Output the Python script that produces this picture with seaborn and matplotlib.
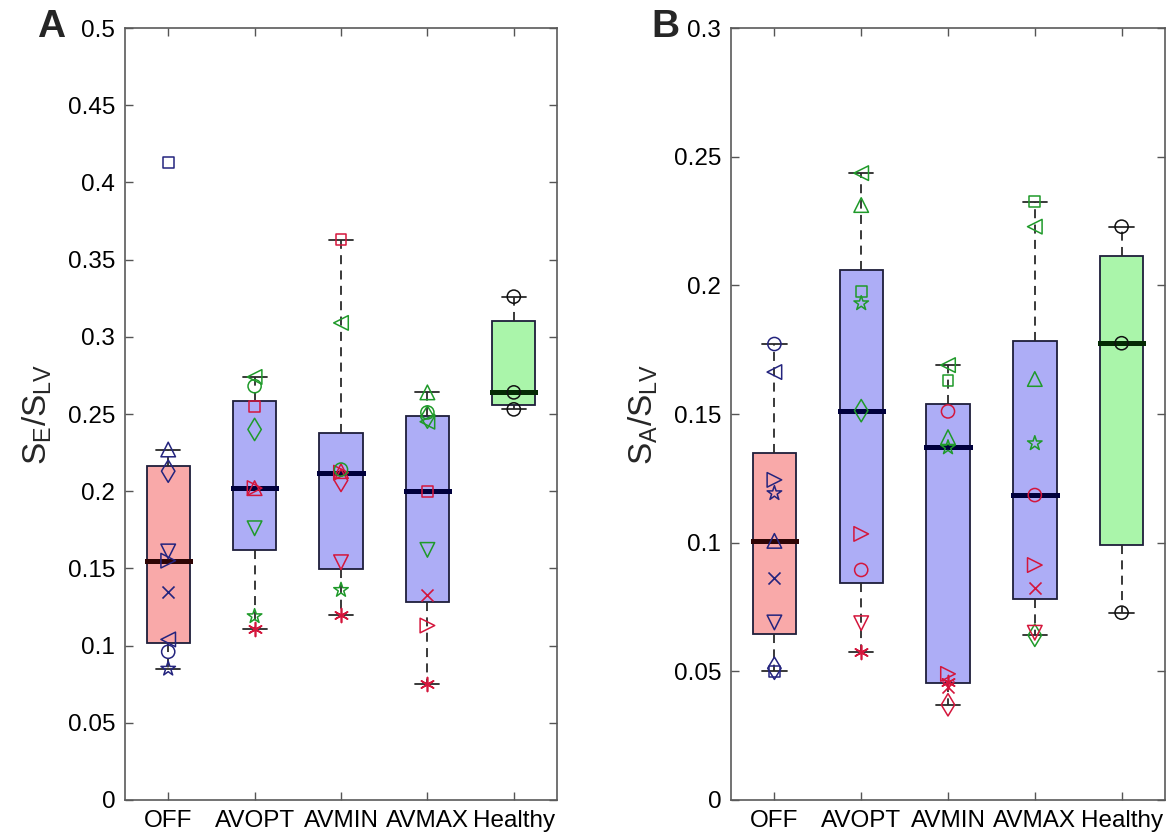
import numpy as np
import pandas as pd
import matplotlib
matplotlib.use("Agg")
import matplotlib.pyplot as plt
import seaborn as sns

# ---------------- data ----------------
categories = ["OFF", "AVOPT", "AVMIN", "AVMAX", "Healthy"]

# Panel A : S_E / S_LV
a_off_vals = [0.413, 0.227, 0.213, 0.161, 0.155, 0.135, 0.104, 0.096, 0.085]
a_off_mk = ["s", "^", "d", "v", ">", "x", "<", "o", "*"]
a_off_col = ["N", "N", "N", "N", "N", "N", "N", "N", "N"]

a_avopt_vals = [0.274, 0.268, 0.255, 0.240, 0.202, 0.202, 0.176, 0.119, 0.111]
a_avopt_mk = ["<", "o", "s", "d", "^", ">", "v", "*", "a"]
a_avopt_col = ["G", "G", "R", "G", "R", "R", "G", "G", "R"]

a_avmin_vals = [0.363, 0.309, 0.214, 0.213, 0.212, 0.207, 0.154, 0.136, 0.120]
a_avmin_mk = ["s", "<", "o", "^", ">", "d", "v", "*", "a"]
a_avmin_col = ["R", "G", "G", "R", "R", "R", "R", "G", "R"]

a_avmax_vals = [0.264, 0.251, 0.248, 0.245, 0.200, 0.162, 0.133, 0.113, 0.075]
a_avmax_mk = ["^", "o", "d", "<", "s", "v", "x", ">", "a"]
a_avmax_col = ["G", "G", "G", "G", "R", "G", "R", "R", "R"]

a_healthy_vals = [0.326, 0.264, 0.253]
a_healthy_mk = ["o", "o", "o"]
a_healthy_col = ["K", "K", "K"]

# Panel B : S_A / S_LV
b_off_vals = [0.1772, 0.1663, 0.1244, 0.1192, 0.1007, 0.0864, 0.0690, 0.0512, 0.0500]
b_off_mk = ["o", "<", ">", "*", "^", "x", "v", "d", "s"]
b_off_col = ["N", "N", "N", "N", "N", "N", "N", "N", "N"]

b_avopt_vals = [0.2436, 0.2312, 0.1976, 0.1930, 0.1513, 0.1034, 0.0894, 0.0687, 0.0576]
b_avopt_mk = ["<", "^", "s", "*", "d", ">", "o", "v", "a"]
b_avopt_col = ["G", "G", "G", "G", "G", "R", "R", "R", "R"]

b_avmin_vals = [0.169, 0.163, 0.151, 0.141, 0.137, 0.049, 0.046, 0.044, 0.037]
b_avmin_mk = ["<", "s", "o", "^", "*", ">", "a", "x", "d"]
b_avmin_col = ["G", "G", "R", "G", "G", "R", "R", "R", "R"]

b_avmax_vals = [0.2325, 0.2228, 0.1636, 0.1386, 0.1185, 0.0913, 0.0823, 0.0650, 0.0640]
b_avmax_mk = ["s", "<", "^", "*", "o", ">", "x", "v", "d"]
b_avmax_col = ["G", "G", "G", "G", "R", "R", "R", "R", "G"]

b_healthy_vals = [0.2228, 0.1775, 0.0728]
b_healthy_mk = ["o", "o", "o"]
b_healthy_col = ["K", "K", "K"]

a_yticks = [0, 0.05, 0.1, 0.15, 0.2, 0.25, 0.3, 0.35, 0.4, 0.45, 0.5]
b_yticks = [0, 0.05, 0.1, 0.15, 0.2, 0.25, 0.3]

# ---------------- style ----------------
sns.set_theme(style="white")
plt.rcParams["font.family"] = ["Liberation Sans", "DejaVu Sans"]
plt.rcParams["mathtext.default"] = "regular"

MARKERS = {"s": "s", "^": "^", "v": "v", "<": "<", ">": ">", "d": "d",
           "o": "o", "x": "x", "*": "*", "a": (6, 2, 0)}
SIZES = {"s": 60, "^": 110, "v": 110, "<": 110, ">": 110, "d": 130,
         "o": 90, "x": 75, "*": 120, "a": 100}
COLORS = {"N": "#24247e", "R": "#d4163c", "G": "#1f9a2a", "K": "#111111"}
LINE_ART = {"x", "a"}

BOX_FILL = ["#f9a9a9", "#adadf6", "#adadf6", "#adadf6", "#aaf5aa"]
MED_COL = ["#2e0505", "#00003c", "#00003c", "#00003c", "#042a04"]
EDGE = "#1e1e3a"


def box_stats(vals):
    v = np.asarray(vals, dtype=float)
    q1, med, q3 = np.quantile(v, [0.25, 0.5, 0.75], method="hazen")
    iqr = q3 - q1
    lo = v[v >= q1 - 1.5 * iqr].min()
    hi = v[v <= q3 + 1.5 * iqr].max()
    return dict(med=med, q1=q1, q3=q3, whislo=lo, whishi=hi, fliers=[])


def draw_panel(ax, vals_list, mk_list, col_list, yticks, ylabel):
    for i, vals in enumerate(vals_list):
        ax.bxp([box_stats(vals)], positions=[i], widths=0.5, patch_artist=True,
               showfliers=False, manage_ticks=False, capwidths=0.28,
               boxprops=dict(facecolor=BOX_FILL[i], edgecolor=EDGE, linewidth=1.3),
               whiskerprops=dict(color="#2a2a2a", linestyle=(0, (5, 3.5)), linewidth=1.3),
               capprops=dict(color="#2a2a2a", linewidth=1.3),
               medianprops=dict(color=MED_COL[i], linewidth=3.6, solid_capstyle="projecting"))
    rows = []
    for i, (vals, mks, cols) in enumerate(zip(vals_list, mk_list, col_list)):
        for v, m, c in zip(vals, mks, cols):
            rows.append(dict(pos=i, value=v, mk=m, col=c))
    df = pd.DataFrame(rows)
    for (m, c), sub in df.groupby(["mk", "col"]):
        if m in LINE_ART:
            sns.scatterplot(data=sub, x="pos", y="value", marker=MARKERS[m], s=SIZES[m],
                            color=COLORS[c], linewidth=1.2, zorder=4, ax=ax)
        else:
            sns.scatterplot(data=sub, x="pos", y="value", marker=MARKERS[m], s=SIZES[m],
                            color=COLORS[c], facecolor="none", edgecolor=COLORS[c],
                            linewidth=1.1, zorder=4, ax=ax)
    ax.set_xlim(-0.5, 4.5)
    ax.set_ylim(0, yticks[-1])
    ax.set_xticks(range(len(categories)))
    ax.set_xticklabels(categories)
    ax.set_yticks(yticks)
    ax.set_yticklabels([f"{t:g}" for t in yticks])
    ax.set_xlabel("")
    ax.set_ylabel(ylabel, fontsize=24, labelpad=10)
    ax.tick_params(axis="both", which="both", direction="in", length=6, width=1.0,
                   color="#555555", labelsize=17.5, labelcolor="black",
                   top=True, right=True, bottom=True, left=True, pad=7)
    for sp in ax.spines.values():
        sp.set_visible(True)
        sp.set_color("#5a5a5a")
        sp.set_linewidth(1.2)
    ax.set_facecolor("white")


fig = plt.figure(figsize=(11.73, 8.4), dpi=100)
fig.patch.set_facecolor("white")
ax_a = fig.add_axes([125 / 1173, 40 / 840, 432 / 1173, 772 / 840])
ax_b = fig.add_axes([731 / 1173, 40 / 840, 434 / 1173, 772 / 840])

draw_panel(ax_a,
           [a_off_vals, a_avopt_vals, a_avmin_vals, a_avmax_vals, a_healthy_vals],
           [a_off_mk, a_avopt_mk, a_avmin_mk, a_avmax_mk, a_healthy_mk],
           [a_off_col, a_avopt_col, a_avmin_col, a_avmax_col, a_healthy_col],
           a_yticks, r"$S_E/S_{LV}$")
draw_panel(ax_b,
           [b_off_vals, b_avopt_vals, b_avmin_vals, b_avmax_vals, b_healthy_vals],
           [b_off_mk, b_avopt_mk, b_avmin_mk, b_avmax_mk, b_healthy_mk],
           [b_off_col, b_avopt_col, b_avmin_col, b_avmax_col, b_healthy_col],
           b_yticks, r"$S_A/S_{LV}$")

fig.text(37 / 1173, 1 - 37 / 840, "A", fontsize=28, fontweight="bold", va="baseline", ha="left")
fig.text(651 / 1173, 1 - 37 / 840, "B", fontsize=28, fontweight="bold", va="baseline", ha="left")

fig.savefig("out.png", dpi=100, facecolor="white")
